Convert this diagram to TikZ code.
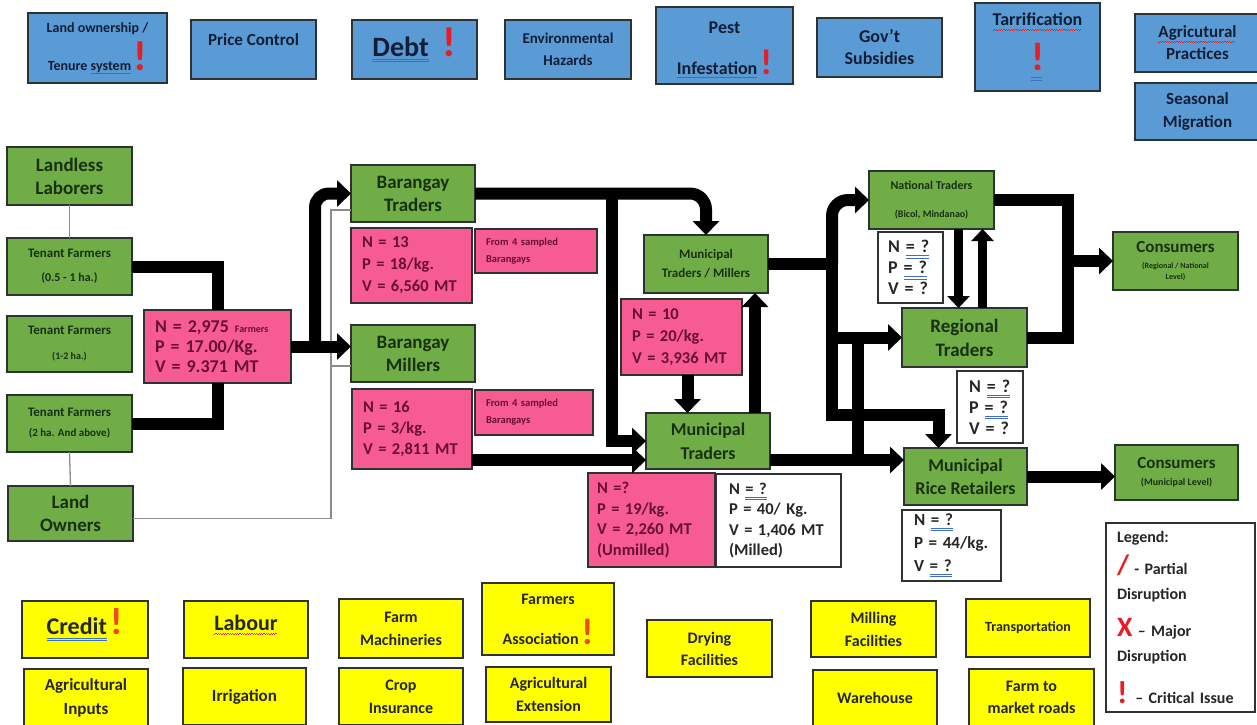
\documentclass[tikz,border=0pt]{standalone}
\usepackage{fontspec}
\setmainfont{Carlito}
\usetikzlibrary{arrows.meta}

\definecolor{cblue}{RGB}{91,155,213}
\definecolor{cgreen}{RGB}{112,173,71}
\definecolor{cpink}{RGB}{246,92,146}
\definecolor{cyellow}{RGB}{255,255,0}
\definecolor{cborder}{RGB}{45,50,50}
\definecolor{tblue}{RGB}{18,30,55}
\definecolor{tgreen}{RGB}{25,48,18}
\definecolor{tpink}{RGB}{105,15,50}
\definecolor{cred}{RGB}{232,28,36}
\definecolor{corange}{RGB}{240,75,30}
\definecolor{ublue}{RGB}{60,110,200}
\definecolor{cwavy}{RGB}{220,40,40}

\newcommand{\fs}[2]{\fontsize{#1}{#2}\selectfont\bfseries}
\newcommand{\crit}[2][cred]{\smash{\textcolor{#1}{\fs{#2}{#2}!}}}
\newsavebox\ulbox
\newcommand\ulblue[1]{\sbox\ulbox{#1}\rlap{\textcolor{ublue}{\rule[-3.5pt]{\wd\ulbox}{1pt}}}\usebox\ulbox}
\newcommand\uublue[1]{\sbox\ulbox{#1}\rlap{\textcolor{ublue}{\rule[-3.5pt]{\wd\ulbox}{0.9pt}}}\rlap{\textcolor{ublue}{\rule[-6pt]{\wd\ulbox}{0.9pt}}}\usebox\ulbox}
\newcommand\ulwavy[1]{\sbox\ulbox{#1}\rlap{\hbox to \wd\ulbox{\color{cwavy}\leaders\hbox{\rule[-4.5pt]{1.2pt}{0.8pt}\rule[-3.5pt]{1.2pt}{0.8pt}}\hfill}}\usebox\ulbox}
\newcommand\dblbar[1]{\rlap{\textcolor{ublue}{\rule[-7pt]{#1}{1pt}}}\rlap{\textcolor{ublue}{\rule[-10pt]{#1}{1pt}}}}

\begin{document}
\begin{tikzpicture}[x=1pt, y=-1pt,
    box/.style={draw=cborder, line width=1.5pt, anchor=north west, inner sep=2pt, outer sep=0pt},
    bluebox/.style={box, fill=cblue, text=tblue, align=center},
    greenbox/.style={box, fill=cgreen, text=tgreen, align=center},
    yellowbox/.style={box, fill=cyellow, text=black!85, align=center},
    pinkbox/.style={box, fill=cpink, text=tpink, align=left, inner xsep=11pt},
    whitebox/.style={box, fill=white, text=black!85, align=left, inner xsep=11pt},
    flow/.style={line width=12pt, -{Triangle[width=26pt,length=14pt]}},
    thinflow/.style={line width=9pt, -{Triangle[width=22pt,length=12pt]}},
    bar/.style={line width=12pt},
    link/.style={line width=1.3pt, draw=black!45}]

    \fill[white] (0,0) rectangle (1257,724);
    \useasboundingbox (0,0) rectangle (1257,724);

    % factors on top
    \node[bluebox, minimum width=139pt, minimum height=70pt, font=\fs{14}{17}] (tenure) at (28,13)
        {Land ownership /\\[21pt]Tenure \ulblue{system}\,\crit{42}};
    \node[bluebox, minimum width=125pt, minimum height=59pt, font=\fs{17}{20}] (price) at (191,20)
        {Price Control\\\mbox{}};
    \node[bluebox, minimum width=125pt, minimum height=59pt, font=\fs{28}{30}] (debt) at (352,20)
        {\uublue{Debt}\enspace\crit{42}};
    \node[bluebox, minimum width=126pt, minimum height=59pt, font=\fs{15}{22}] (hazard) at (505,20)
        {Environmental\\Hazards};
    \node[bluebox, minimum width=137pt, minimum height=77pt, font=\fs{18}{21}] (pest) at (656,7)
        {\rule{0pt}{21pt}Pest\\[20pt]\ulblue{Infestation}\,\crit{36}};
    \node[bluebox, minimum width=125pt, minimum height=59pt, font=\fs{18}{22}] (subsidy) at (817,18)
        {Gov’t\\Subsidies};
    \node[bluebox, minimum width=125pt, minimum height=88pt, font=\fs{18}{21}] (tariff) at (975,3)
        {\ulwavy{Tarrification}\\[24pt]\dblbar{11pt}\crit{40}};
    \node[bluebox, minimum width=125pt, minimum height=58pt, font=\fs{17}{22}] (agprac) at (1135,14)
        {\ulwavy{Agricutural}\\Practices};
    \node[bluebox, minimum width=125pt, minimum height=57pt, font=\fs{17}{23}] (season) at (1135,83)
        {Seasonal\\Migration};

    % producers
    \node[greenbox, minimum width=125pt, minimum height=58pt, font=\fs{19}{23}] (landless) at (7,147)
        {Landless\\Laborers};
    \node[greenbox, minimum width=125pt, minimum height=57pt, font=\fs{13}{24}] (tenant1) at (7,238)
        {Tenant Farmers\\{\fs{12}{14}(0.5 - 1 ha.)}};
    \node[greenbox, minimum width=125pt, minimum height=56pt, font=\fs{13}{25}] (tenant2) at (7,316)
        {Tenant Farmers\\{\fs{10}{12}(1-2 ha.)}};
    \node[greenbox, minimum width=125pt, minimum height=57pt, font=\fs{13}{20}] (tenant3) at (7,395)
        {Tenant Farmers\\{\fs{11}{12}(2 ha. And above)}};
    \node[greenbox, minimum width=125pt, minimum height=55pt, font=\fs{19}{23}] (owners) at (8,486)
        {Land\\Owners};
    \node[pinkbox, minimum width=147pt, minimum height=73pt, text width=125pt, font=\fs{18}{20}] (farmgate) at (144,310)
        {N = 2,975 {\fs{10}{12}Farmers}\\P = 17.00/Kg.\\V = 9.371 MT};

    % barangay level
    \node[greenbox, minimum width=124pt, minimum height=57pt, font=\fs{19}{23}] (brgytr) at (351,165)
        {Barangay\\Traders};
    \node[pinkbox, minimum width=121pt, minimum height=75pt, text width=99pt, font=\fs{16.5}{22}] (brgytrv) at (351,228)
        {N = 13\\P = 18/kg.\\V = 6,560 MT};
    \node[pinkbox, minimum width=122pt, minimum height=44pt, text width=100pt, font=\fs{10.5}{17}] (brgytrn) at (475,229)
        {From 4 sampled\\Barangays};
    \node[greenbox, minimum width=124pt, minimum height=57pt, font=\fs{19}{23}] (brgyml) at (351,325)
        {Barangay\\Millers};
    \node[pinkbox, minimum width=120pt, minimum height=80pt, text width=98pt, font=\fs{16.5}{21}] (brgymlv) at (352,389)
        {N = 16\\P = 3/kg.\\V = 2,811 MT};
    \node[pinkbox, minimum width=118pt, minimum height=45pt, text width=96pt, font=\fs{10.5}{17}] (brgymln) at (475,390)
        {From 4 sampled\\Barangays};

    % municipal level
    \node[greenbox, minimum width=124pt, minimum height=58pt, font=\fs{13}{19}] (muntm) at (644,235)
        {Municipal\\Traders / Millers};
    \node[pinkbox, minimum width=121pt, minimum height=76pt, text width=99pt, font=\fs{16.5}{22}] (muntmv) at (621,299)
        {N = 10\\P = 20/kg.\\V = 3,936 MT};
    \node[greenbox, minimum width=124pt, minimum height=56pt, font=\fs{18}{24}] (muntr) at (646,413)
        {Municipal\\Traders};
    \node[pinkbox, minimum width=127pt, minimum height=94pt, inner xsep=9pt, text width=109pt, font=\fs{16.5}{20.5}] (muntrv) at (588,473)
        {N =?\\P = 19/kg.\\V = 2,260 MT\\(Unmilled)};
    \node[whitebox, minimum width=125pt, minimum height=93pt, inner xsep=13pt, text width=99pt, font=\fs{16.5}{20.5}] (muntrw) at (716,474)
        {N \uublue{= ?}\\P = 40/ Kg.\\V = 1,406 MT\\(Milled)};

    % national and regional level
    \node[greenbox, minimum width=125pt, minimum height=58pt, font=\fs{12}{28}] (nattr) at (869,171)
        {National Traders\\{\fs{10}{12}(Bicol, Mindanao)}};
    \node[whitebox, minimum width=65pt, minimum height=71pt, inner xsep=10pt, text width=45pt, font=\fs{18}{21}] (nattrv) at (878,232)
        {N \uublue{= ?}\\P \uublue{= ?}\\V = ?};
    \node[greenbox, minimum width=125pt, minimum height=59pt, font=\fs{19}{24}] (regtr) at (902,308)
        {Regional\\Traders};
    \node[whitebox, minimum width=66pt, minimum height=72pt, inner xsep=12pt, text width=42pt, font=\fs{18}{21}] (regtrv) at (957,371)
        {N \uublue{= ?}\\P \uublue{= ?}\\V = ?};
    \node[greenbox, minimum width=123pt, minimum height=57pt, font=\fs{18}{23}] (retail) at (904,448)
        {Municipal\\Rice Retailers};
    \node[whitebox, minimum width=99pt, minimum height=71pt, inner xsep=12pt, text width=75pt, font=\fs{17}{23}] (retailv) at (902,510)
        {N \uublue{= ?}\\P = 44/kg.\\V \uublue{= ?}};
    \node[greenbox, minimum width=125pt, minimum height=58pt, font=\fs{17}{18}] (consnat) at (1113,232)
        {Consumers\\[-2pt]{\fs{8}{10}(Regional / National}\\[-7pt]{\fs{8}{10}Level)}};
    \node[greenbox, minimum width=123pt, minimum height=55pt, font=\fs{17}{17}] (consmun) at (1115,445)
        {Consumers\\{\fs{10}{12}(Municipal Level)}};

    % legend
    \node[whitebox, minimum width=149pt, minimum height=189pt, text width=127pt, font=\fs{16}{20}] (legend) at (1106,523)
        {Legend:\\[9pt]{\fs{28}{20}\textcolor{cred}{/}} - Partial\\[5pt]Disruption\\[15pt]{\fs{28}{20}\textcolor{cred}{X}} – Major\\[5pt]Disruption\\[17pt]{\fs{32}{20}\textcolor{cred}{!}} – Critical Issue};

    % support services
    \node[yellowbox, minimum width=126pt, minimum height=57pt, font=\fs{24}{26}] (credit) at (22,601)
        {\uublue{Credit}\,\crit[corange]{38}};
    \node[yellowbox, minimum width=124pt, minimum height=57pt, font=\fs{22}{26}] (labour) at (184,601)
        {\ulwavy{Labour}\\[-12pt]\mbox{}};
    \node[yellowbox, minimum width=124pt, minimum height=59pt, font=\fs{16}{23}] (machine) at (339,599)
        {Farm\\Machineries};
    \node[yellowbox, minimum width=132pt, minimum height=72pt, font=\fs{16}{21}] (assoc) at (482,583)
        {Farmers\\[19pt]Association\,\crit[corange]{37}};
    \node[yellowbox, minimum width=124pt, minimum height=57pt, font=\fs{17}{24}] (inputs) at (24,669)
        {Agricultural\\Inputs};
    \node[yellowbox, minimum width=123pt, minimum height=57pt, font=\fs{17}{20}] (irrig) at (183,668)
        {Irrigation};
    \node[yellowbox, minimum width=124pt, minimum height=57pt, font=\fs{16}{23}] (insure) at (339,668)
        {Crop\\Insurance};
    \node[yellowbox, minimum width=125pt, minimum height=55pt, font=\fs{16}{23}] (extens) at (486,667)
        {Agricultural\\Extension};
    \node[yellowbox, minimum width=125pt, minimum height=57pt, font=\fs{16}{22}] (drying) at (647,620)
        {Drying\\Facilities};
    \node[yellowbox, minimum width=125pt, minimum height=56pt, font=\fs{16}{23}] (milling) at (811,601)
        {Milling\\Facilities};
    \node[yellowbox, minimum width=124pt, minimum height=58pt, font=\fs{14}{17}] (transp) at (966,599)
        {Transportation};
    \node[yellowbox, minimum width=124pt, minimum height=56pt, font=\fs{16}{20}] (wareh) at (813,670)
        {Warehouse};
    \node[yellowbox, minimum width=125pt, minimum height=57pt, font=\fs{16}{22}] (roads) at (969,669)
        {Farm to\\market roads};

    % thin links
    \draw[link] (landless.south) -- (landless.south |- tenant1.north);
    \draw[link] (tenant3.south) -- (owners.north);
    \coordinate (lk1) at (331,210);
    \coordinate (lk2) at (331,366);
    \coordinate (ownout) at ([yshift=-5pt]owners.east);
    \draw[link] (ownout) -| (lk1) -- (lk1 -| brgytr.west);
    \draw[link] (lk2) -- (lk2 -| brgyml.west);

    % farm gate
    \draw[bar] (tenant1.east) -| (farmgate.north);
    \draw[bar] (tenant3.east) -| (farmgate.south);
    \draw[flow] (farmgate.east) -- (farmgate.east -| brgyml.west);
    \coordinate (split1) at ([xshift=24pt]farmgate.east);
    \draw[flow, rounded corners=14pt] (split1) |- (brgytr.west);

    % barangay to municipal
    \draw[flow, rounded corners=16pt] (brgytr.east) -| (muntm.north);
    \coordinate (split2) at ([xshift=137pt]brgytr.east);
    \draw[flow] (split2) |- (muntr.west);
    \coordinate (mlout) at ([yshift=-31pt]brgymlv.east);
    \draw[flow] (mlout) -- (mlout -| muntr.west);
    \coordinate (dn1) at ([xshift=6pt]muntmv.south);
    \draw[flow] (dn1) -- (dn1 |- muntr.north);
    \coordinate (up1) at ([xshift=47pt]muntr.north);
    \draw[flow] (up1) -- (up1 |- muntm.south);

    % municipal to regional, national, retail
    \coordinate (split3) at ([xshift=64pt]muntm.east);
    \coordinate (split4) at ([yshift=-151pt]split3);
    \coordinate (rtin) at ([xshift=-27pt]retail.north);
    \draw[bar] (muntm.east) -- (split3);
    \draw[flow, rounded corners=16pt] (split3) |- (nattr.west);
    \draw[flow] (split3) -- (split4) -| (rtin);
    \draw[flow] (split3 |- regtr.west) -- (regtr.west);
    \coordinate (mtout) at ([yshift=-19pt]muntr.east);
    \draw[flow] (mtout) -- (mtout -| retail.west);
    \coordinate (split5) at ([xshift=88pt]mtout);
    \draw[bar] (split5) -- (split5 |- regtr.west);

    % national and regional traders
    \coordinate (dn2) at ([xshift=-6pt]regtr.north);
    \draw[thinflow] (dn2 |- nattr.south) -- (dn2);
    \coordinate (up2) at ([xshift=18pt]regtr.north);
    \draw[thinflow] (up2) -- (up2 |- nattr.south);
    \coordinate (split6) at (1068,261);
    \draw[bar] (nattr.east) -| (split6 |- regtr.east) -- (regtr.east);
    \draw[flow] (split6) -- (split6 -| consnat.west);
    \draw[flow] (retail.east) -- (retail.east -| consmun.west);
\end{tikzpicture}
\end{document}
